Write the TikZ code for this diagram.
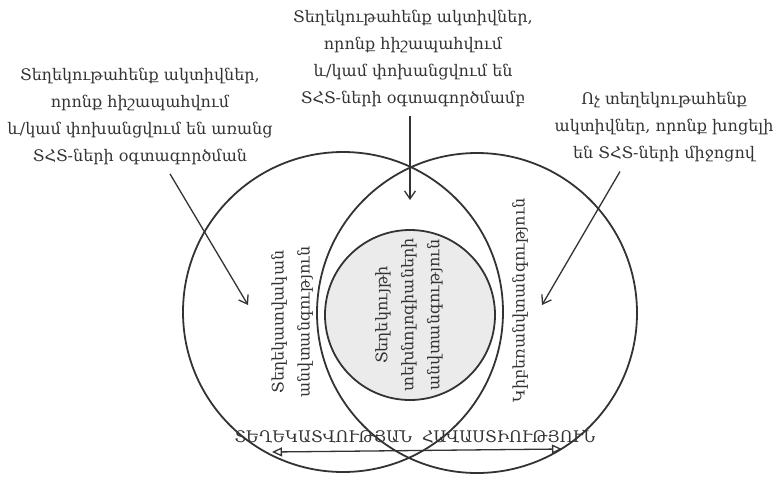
\documentclass[tikz,border=0pt]{standalone}
\usepackage{fontspec}
\setmainfont{DejaVu Serif}
\usetikzlibrary{arrows.meta}

\definecolor{inkgray}{HTML}{333333}
\definecolor{coregray}{HTML}{EBEBEB}

\begin{document}
\begin{tikzpicture}[x=1pt,y=-1pt,
        ring/.style={draw=inkgray, line width=1.8pt},
        note/.style={align=center, text=inkgray, font=\fontsize{16}{27}\selectfont},
        vnote/.style={note, rotate=90, font=\fontsize{16}{26}\selectfont},
        pointer/.style={draw=inkgray, line width=1.3pt, -{Straight Barb[length=8pt,width=11pt]}}]
    \useasboundingbox (0,0) rectangle (784,480);
    % the three circles
    \draw[ring] (343,312) circle (160pt);
    \draw[ring] (477,313) circle (160pt);
    \draw[ring, fill=coregray] (410,315) circle (85pt);
    % texts inside the circles
    \node[vnote] (secinfo) at (292,322) {Տեղեկատվական\\անվտանգություն};
    \node[vnote] (secict) at (409,315) {Տեղեկույթի\\տեխնոլոգիաների\\անվտանգություն};
    \node[vnote] (seccyber) at (520,300) {Կիբեռանվտանգություն};
    % texts above
    \node[note] (noict) at (140,116) {Տեղեկութահենք ակտիվներ,\\որոնք հիշապահվում\\և/կամ փոխանցվում են առանց\\ՏՀՏ-ների օգտագործման};
    \node[note] (withict) at (413,58) {Տեղեկութահենք ակտիվներ,\\որոնք հիշապահվում\\և/կամ փոխանցվում են\\ՏՀՏ-ների օգտագործմամբ};
    \node[note] (nondata) at (664,127) {Ոչ տեղեկութահենք\\ակտիվներ, որոնք խոցելի\\են ՏՀՏ-ների միջոցով};
    \coordinate (leftend) at (248,305);
    \coordinate (midend) at (410,200);
    \coordinate (rightend) at (542,305);
    \draw[pointer] (noict.south) ++(30,6) -- (leftend);
    \draw[pointer] (withict.south) ++(-3,6) -- (midend);
    \draw[pointer] (nondata.south) ++(-44,6) -- (rightend);
    % bottom span
    \node[note] (assure) at (415,437) {ՏԵՂԵԿԱՏՎՈՒԹՅԱՆ\ \ ՀԱՎԱՍՏԻՈՒԹՅՈՒՆ};
    \coordinate (spanl) at (272,452);
    \coordinate (spanr) at (562,449);
    \draw[draw=inkgray, line width=1.3pt, {Triangle[open,length=10pt,width=9pt]}-{Triangle[open,length=10pt,width=9pt]}] (spanl) -- (spanr);
\end{tikzpicture}
\end{document}
